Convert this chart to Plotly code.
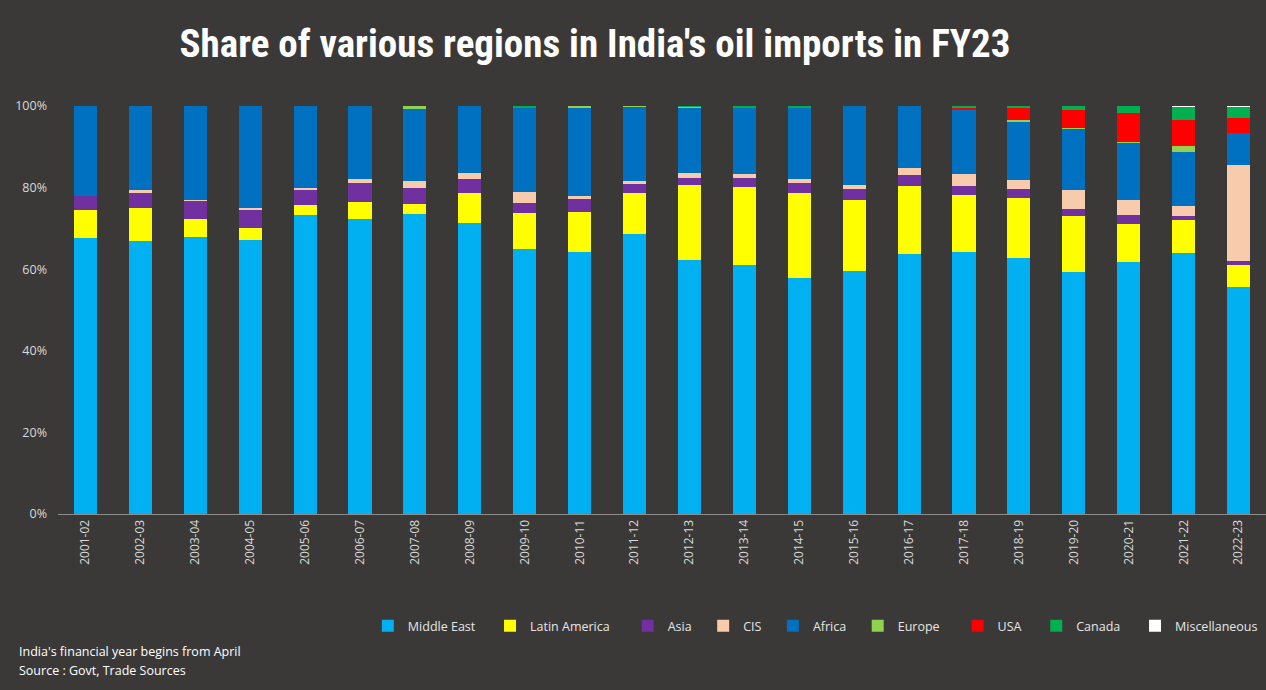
import plotly.graph_objects as go

years = ["2001-02","2002-03","2003-04","2004-05","2005-06","2006-07","2007-08","2008-09",
         "2009-10","2010-11","2011-12","2012-13","2013-14","2014-15","2015-16","2016-17",
         "2017-18","2018-19","2019-20","2020-21","2021-22","2022-23"]

middle_east   = [67.6,66.9,67.8,67.2,73.3,72.3,73.5,71.4,65.0,64.3,68.7,62.2,61.0,57.8,59.6,63.8,64.3,62.7,59.3,61.7,64.0,55.6]
latin_america = [6.8,8.2,4.5,2.8,2.4,4.2,2.4,7.2,8.7,9.8,9.9,18.4,19.2,20.8,17.4,16.5,13.9,14.8,13.7,9.5,8.1,5.4]
asia          = [3.5,3.5,4.5,4.7,3.9,4.7,3.9,3.6,2.6,3.1,2.4,1.8,2.2,2.5,2.7,2.8,2.1,2.1,1.8,2.1,0.9,1.0]
cis           = [0.0,0.7,0.2,0.3,0.3,1.0,1.9,1.4,2.6,0.7,0.6,1.1,0.9,1.0,0.9,1.7,3.0,2.3,4.5,3.7,2.4,23.5]
africa        = [22.1,20.7,23.0,25.0,20.1,17.8,17.6,16.4,20.7,21.7,18.2,16.1,16.3,17.5,19.4,15.2,15.6,14.4,15.1,14.0,13.3,8.0]
europe        = [0.0,0.0,0.0,0.0,0.0,0.0,0.7,0.0,0.0,0.4,0.2,0.2,0.0,0.0,0.0,0.0,0.0,0.3,0.2,0.3,1.4,0.0]
usa           = [0.0,0.0,0.0,0.0,0.0,0.0,0.0,0.0,0.0,0.0,0.0,0.0,0.0,0.0,0.0,0.0,0.6,2.9,4.5,7.1,6.4,3.5]
canada        = [0.0,0.0,0.0,0.0,0.0,0.0,0.0,0.0,0.4,0.0,0.0,0.2,0.4,0.4,0.0,0.0,0.5,0.5,0.9,1.6,3.3,2.8]
miscellaneous = [0.0,0.0,0.0,0.0,0.0,0.0,0.0,0.0,0.0,0.0,0.0,0.0,0.0,0.0,0.0,0.0,0.0,0.0,0.0,0.0,0.2,0.2]

series = [
    ("Middle East", middle_east, "#00b0f0"),
    ("Latin America", latin_america, "#ffff00"),
    ("Asia", asia, "#7030a0"),
    ("CIS", cis, "#f8cbad"),
    ("Africa", africa, "#0070c0"),
    ("Europe", europe, "#92d050"),
    ("USA", usa, "#ff0000"),
    ("Canada", canada, "#00b050"),
    ("Miscellaneous", miscellaneous, "#ffffff"),
]
# extra legend spacing (non-breaking spaces) to mimic the reference legend layout
legend_pad = {"Middle East": 3, "Latin America": 4, "Asia": 2, "CIS": 2, "Africa": 2,
              "Europe": 4, "USA": 3, "Canada": 3, "Miscellaneous": 0}

BG = "#3a3937"
TXT = "#d9d9d9"

totals = [sum(s[1][i] for s in series) for i in range(len(years))]

fig = go.Figure()
for name, vals, col in series:
    fig.add_trace(go.Bar(
        x=years, y=[v / t for v, t in zip(vals, totals)],
        name=name + "\u00a0" * legend_pad[name],
        hovertemplate=name + ": %{y:.1%}<extra></extra>",
        marker=dict(color=col, line=dict(width=0)),
    ))

fig.update_layout(
    barmode="stack",
    bargap=0.58,
    width=1266, height=690,
    paper_bgcolor=BG, plot_bgcolor=BG,
    margin=dict(l=58, r=0, t=106, b=176),
    font=dict(family="Open Sans, Liberation Sans, sans-serif", color=TXT, size=12),
    title=dict(
        text="<b>Share of various regions in India's oil imports in FY23</b>",
        x=595 / 1266, xanchor="center", xref="container",
        y=1 - 43 / 690, yanchor="middle", yref="container",
        font=dict(family="Liberation Sans Narrow, Arial Narrow, Roboto Condensed, Liberation Sans", size=39, color="#ffffff"),
    ),
    xaxis=dict(
        type="category", tickangle=-90, showgrid=False, showline=True, linecolor="#8c8c8c", linewidth=1,
        ticks="", tickfont=dict(size=12, color=TXT),
    ),
    yaxis=dict(
        range=[0, 1], tickformat=".0%", dtick=0.2, showgrid=False, zeroline=False,
        showline=False, tickfont=dict(size=12.5, color=TXT), ticklabelstandoff=10,
    ),
    legend=dict(
        orientation="h", x=0.2565, xanchor="left", y=-0.275, yanchor="middle",
        font=dict(size=12.5, color="#e6e6e6"), bgcolor="rgba(0,0,0,0)",
        itemwidth=30, tracegroupgap=0, traceorder="normal",
    ),
    annotations=[
        dict(text="India's financial year begins from April", xref="paper", yref="paper",
             x=(17 - 58) / 1208, y=(514 - 651) / 408, xanchor="left", yanchor="middle",
             showarrow=False, font=dict(size=12.5, color="#ffffff")),
        dict(text="Source : Govt, Trade Sources", xref="paper", yref="paper",
             x=(17 - 58) / 1208, y=(514 - 670) / 408, xanchor="left", yanchor="middle",
             showarrow=False, font=dict(size=12.5, color="#ffffff")),
    ],
)

fig.write_html("out.html", config={"displayModeBar": False},
               post_script="document.body.style.margin='0';document.body.style.overflow='hidden';")
